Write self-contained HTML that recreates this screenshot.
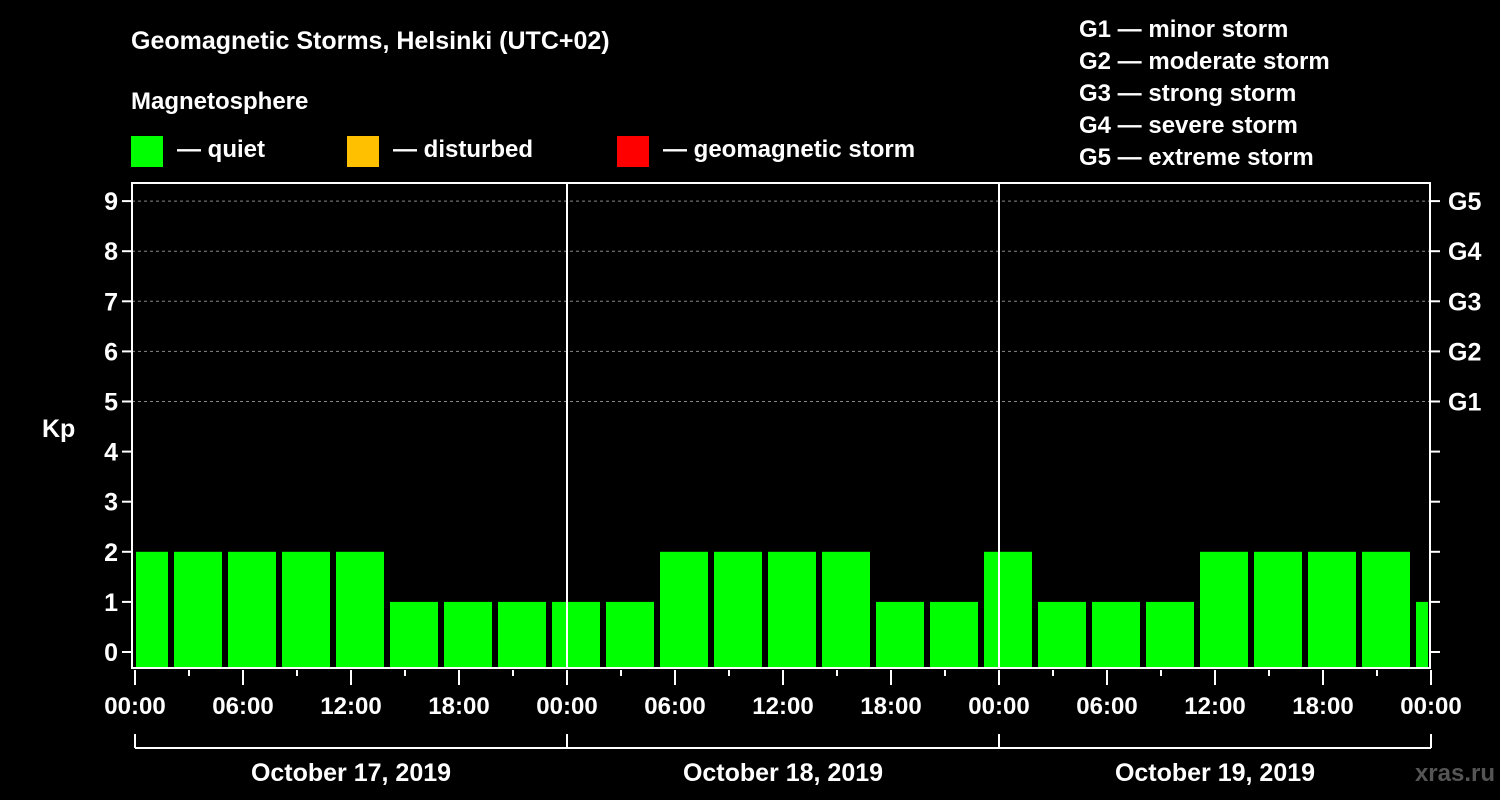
<!DOCTYPE html>
<html><head><meta charset="utf-8">
<style>
html,body{margin:0;padding:0;background:#000;}
svg{display:block;font-family:"Liberation Sans",sans-serif;font-weight:bold;}
</style></head>
<body>
<svg id="chart" width="1500" height="800" viewBox="0 0 1500 800">
<rect x="0" y="0" width="1500" height="800" fill="#000"/>
<text x="131" y="49" fill="#fff" font-size="25">Geomagnetic Storms, Helsinki (UTC+02)</text>
<text x="131" y="109" fill="#fff" font-size="24">Magnetosphere</text>
<g><rect x="131" y="136" width="32" height="31" fill="#00ff00"/><text x="177" y="157" fill="#fff" font-size="24">— quiet</text></g>
<g><rect x="347" y="136" width="32" height="31" fill="#ffc000"/><text x="393" y="157" fill="#fff" font-size="24">— disturbed</text></g>
<g><rect x="617" y="136" width="32" height="31" fill="#ff0000"/><text x="663" y="157" fill="#fff" font-size="24">— geomagnetic storm</text></g>
<g fill="#fff" font-size="24">
<text x="1079" y="37">G1 — minor storm</text>
<text x="1079" y="69">G2 — moderate storm</text>
<text x="1079" y="101">G3 — strong storm</text>
<text x="1079" y="133">G4 — severe storm</text>
<text x="1079" y="165">G5 — extreme storm</text>
</g>
<text x="42" y="437" fill="#fff" font-size="25">Kp</text>
<text x="1495" y="781" fill="#555" font-size="24" text-anchor="end">xras.ru</text>
<g id="plot"></g>
</svg>
<script>
const kpValues = [2,2,2,2,2,1,1,1,1,1,2,2,2,2,1,1,2,1,1,1,2,2,2,2,1];
const dayLabels = ["October 17, 2019","October 18, 2019","October 19, 2019"];
const timeLabels = ["00:00","06:00","12:00","18:00"];
const gLabels = ["G1","G2","G3","G4","G5"];

const NS="http://www.w3.org/2000/svg";
const plot=document.getElementById('plot');
const X0=132,X1=1430,T0=135,PXH=18,YTOP=183,YBOT=668;
const x=h=>T0+h*PXH;
const y=v=>652-v*50.1;
function mk(tag,attrs,parent){const e=document.createElementNS(NS,tag);for(const k in attrs)e.setAttribute(k,attrs[k]);(parent||plot).appendChild(e);return e;}

// gridlines
for(let v=5;v<=9;v++){
  const l=mk('line',{x1:X0,x2:X1,y1:y(v),y2:y(v),stroke:'#888','stroke-dasharray':'3,3','stroke-width':1});
  
  
}
// bars
kpValues.forEach((v,i)=>{
  let s=x(3*i)-15, e=x(3*i)+33;
  s=Math.max(s,X0+4); e=Math.min(e,X1-2);
  const c=v>=5?'#ff0000':(v>=4?'#ffc000':'#00ff00');
  const r=mk('rect',{x:s,y:y(v),width:e-s,height:YBOT-y(v),fill:c});
  
  
});
// frame
const fr=mk('rect',{x:X0,y:YTOP,width:X1-X0,height:YBOT-YTOP,fill:'none',stroke:'#fff','stroke-width':2});


// day separators
for(let d=1;d<dayLabels.length;d++){
  const l=mk('line',{x1:x(24*d),x2:x(24*d),y1:YTOP,y2:YBOT,stroke:'#fff','stroke-width':2});
  
  
}
// y ticks
for(let v=0;v<=9;v++){
  mk('line',{x1:X0-10,x2:X0,y1:y(v),y2:y(v),stroke:'#fff','stroke-width':2});
  mk('line',{x1:X1,x2:X1+10,y1:y(v),y2:y(v),stroke:'#fff','stroke-width':2});
  const t=mk('text',{x:X0-14,y:y(v)+9,fill:'#fff','font-size':25,'text-anchor':'end'});
  t.textContent=v;
  
  
}
gLabels.forEach((g,i)=>{
  const t=mk('text',{x:X1+18,y:y(5+i)+9,fill:'#fff','font-size':25});
  t.textContent=g;
  
  
});
// x ticks
const nd=dayLabels.length;
for(let h=0;h<=24*nd;h+=3){
  const major=h%6===0;
  mk('line',{x1:x(h),x2:x(h),y1:YBOT+2,y2:YBOT+(major?17:8),stroke:'#fff','stroke-width':2});
  if(major){
    const t=mk('text',{x:x(h),y:714,fill:'#fff','font-size':24,'text-anchor':'middle'});
    t.textContent=timeLabels[(h/6)%4];
    
    
  }
}
// day brackets
mk('line',{x1:x(0),x2:x(24*nd),y1:748,y2:748,stroke:'#fff','stroke-width':2});
for(let d=0;d<=nd;d++) mk('line',{x1:x(24*d),x2:x(24*d),y1:734,y2:748,stroke:'#fff','stroke-width':2});
dayLabels.forEach((dl,d)=>{
  const t=mk('text',{x:x(24*d+12),y:781,fill:'#fff','font-size':25,'text-anchor':'middle'});
  t.textContent=dl;
  
  
});
</script>
</body></html>
